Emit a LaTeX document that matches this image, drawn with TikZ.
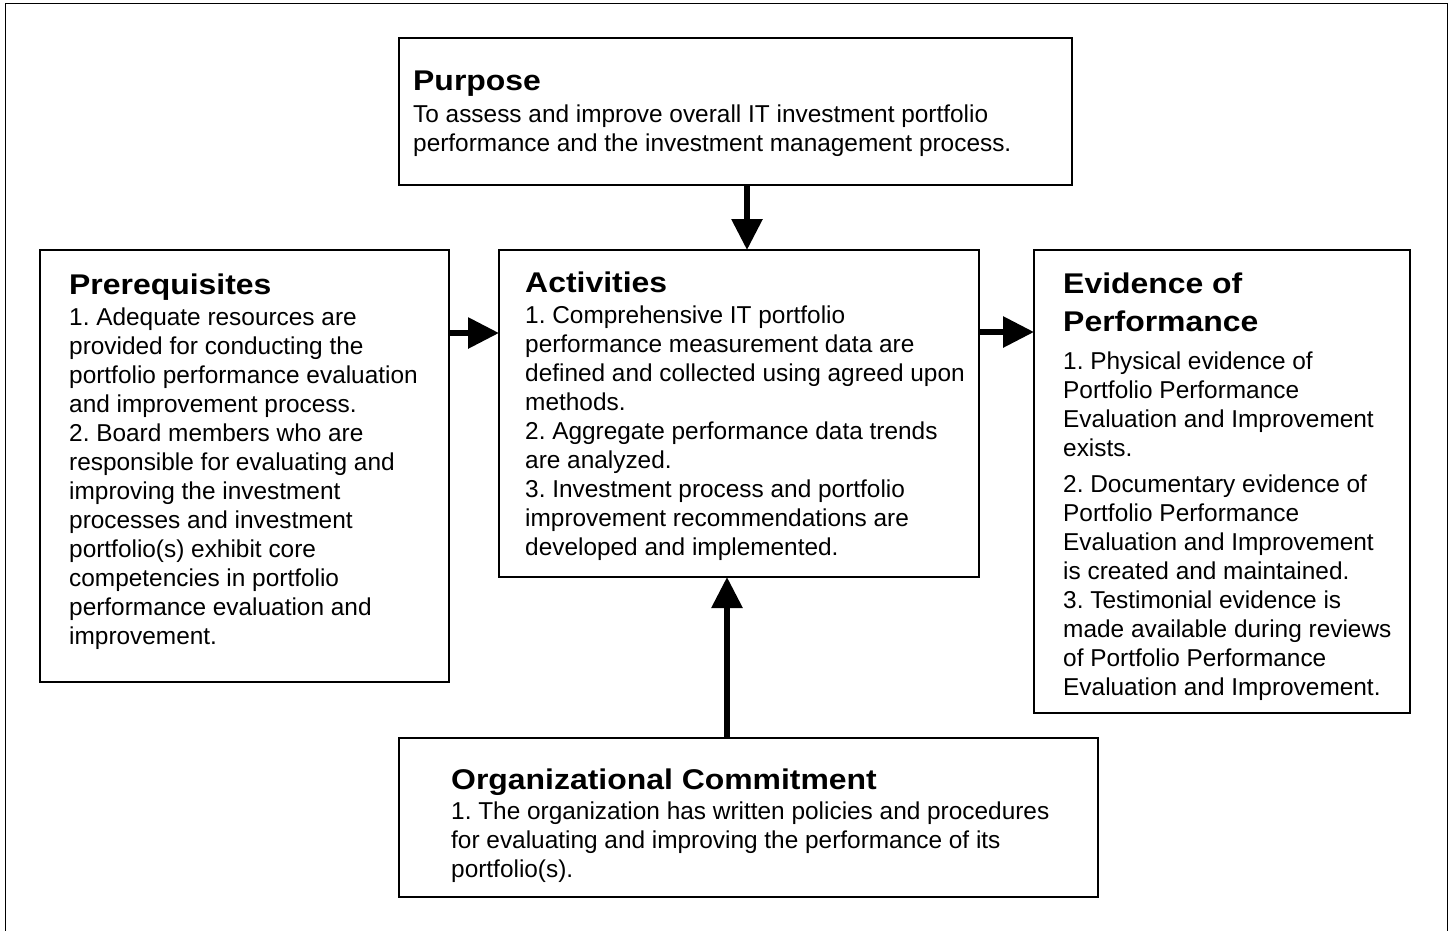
\documentclass[tikz,border=0pt]{standalone}
\usepackage{fontspec}
\setmainfont{Liberation Sans}
\newfontfamily\ttlfont{Liberation Sans}[FakeStretch=1.12]
\usetikzlibrary{arrows.meta}
\frenchspacing
\begin{document}
\begin{tikzpicture}[x=1pt,y=-1pt,
  box/.style={draw=black,line width=1.5pt,inner sep=0pt,outer sep=0pt,anchor=north west},
  ttl/.style={anchor=base west,inner sep=0pt,font=\ttlfont\bfseries\fontsize{28.5}{34}\selectfont},
  body/.style={anchor=north west,inner sep=0pt,align=left,font=\frenchspacing\fontsize{24.4}{29}\selectfont},
  bigarrow/.style={line width=6pt,-{Triangle[length=31pt,width=30pt]}}]
\useasboundingbox (0,0) rectangle (1455,930);
\fill[white] (0,0) rectangle (1455,930);
% outer frame (bottom edge lies below the picture)
\draw[line width=1.5pt] (5.5,945) -- (5.5,3.5) -- (1447.5,3.5) -- (1447.5,945);
% boxes
\node[box,minimum width=673pt,minimum height=147pt] (purpose) at (399,38) {};
\node[box,minimum width=409pt,minimum height=432pt] (prereq) at (40,250) {};
\node[box,minimum width=480pt,minimum height=327pt] (act) at (499,250) {};
\node[box,minimum width=376pt,minimum height=463pt] (evid) at (1034,250) {};
\node[box,minimum width=699pt,minimum height=159pt] (org) at (399,738) {};
% texts
\newcommand\fstrut{\rule{0pt}{22pt}}
\node[ttl] (purT) at (413,90.5) {Purpose};
\node[body] (purB) at (413,100.5) {\fstrut To assess and improve overall IT investment portfolio\\performance and the investment management process.};
\node[ttl] (preT) at (69,294) {Prerequisites};
\node[body] (preB) at (69,303) {\fstrut 1. Adequate resources are\\provided for conducting the\\portfolio performance evaluation\\and improvement process.\\2. Board members who are\\responsible for evaluating and\\improving the investment\\processes and investment\\portfolio(s) exhibit core\\competencies in portfolio\\performance evaluation and\\improvement.};
\node[ttl] (actT) at (525,292) {Activities};
\node[body] (actB) at (525,301.5) {\fstrut 1. Comprehensive IT portfolio\\performance measurement data are\\defined and collected using agreed upon\\methods.\\2. Aggregate performance data trends\\are analyzed.\\3. Investment process and portfolio\\improvement recommendations are\\developed and implemented.};
\node[ttl] (evT1) at (1063,293.3) {Evidence of};
\node[ttl] (evT2) at (1063,331.7) {Performance};
\node[body] (evB) at (1063,347.5) {\fstrut 1. Physical evidence of\\Portfolio Performance\\Evaluation and Improvement\\exists.\\[6.5pt]2. Documentary evidence of\\Portfolio Performance\\Evaluation and Improvement\\is created and maintained.\\3. Testimonial evidence is\\made available during reviews\\of Portfolio Performance\\Evaluation and Improvement.};
\node[ttl] (orgT) at (451,789.3) {Organizational Commitment};
\node[body] (orgB) at (451,797.3) {\fstrut 1. The organization has written policies and procedures\\for evaluating and improving the performance of its\\portfolio(s).};
% arrows
\coordinate (dx) at (747,0);
\coordinate (ux) at (727,0);
\coordinate (ly) at (0,333);
\coordinate (ry) at (0,332);
\draw[bigarrow] (purpose.south -| dx) -- (act.north -| dx);
\draw[bigarrow] (org.north -| ux) -- (act.south -| ux);
\draw[bigarrow] (prereq.east |- ly) -- (act.west |- ly);
\draw[bigarrow] (act.east |- ry) -- (evid.west |- ry);
\end{tikzpicture}
\end{document}
